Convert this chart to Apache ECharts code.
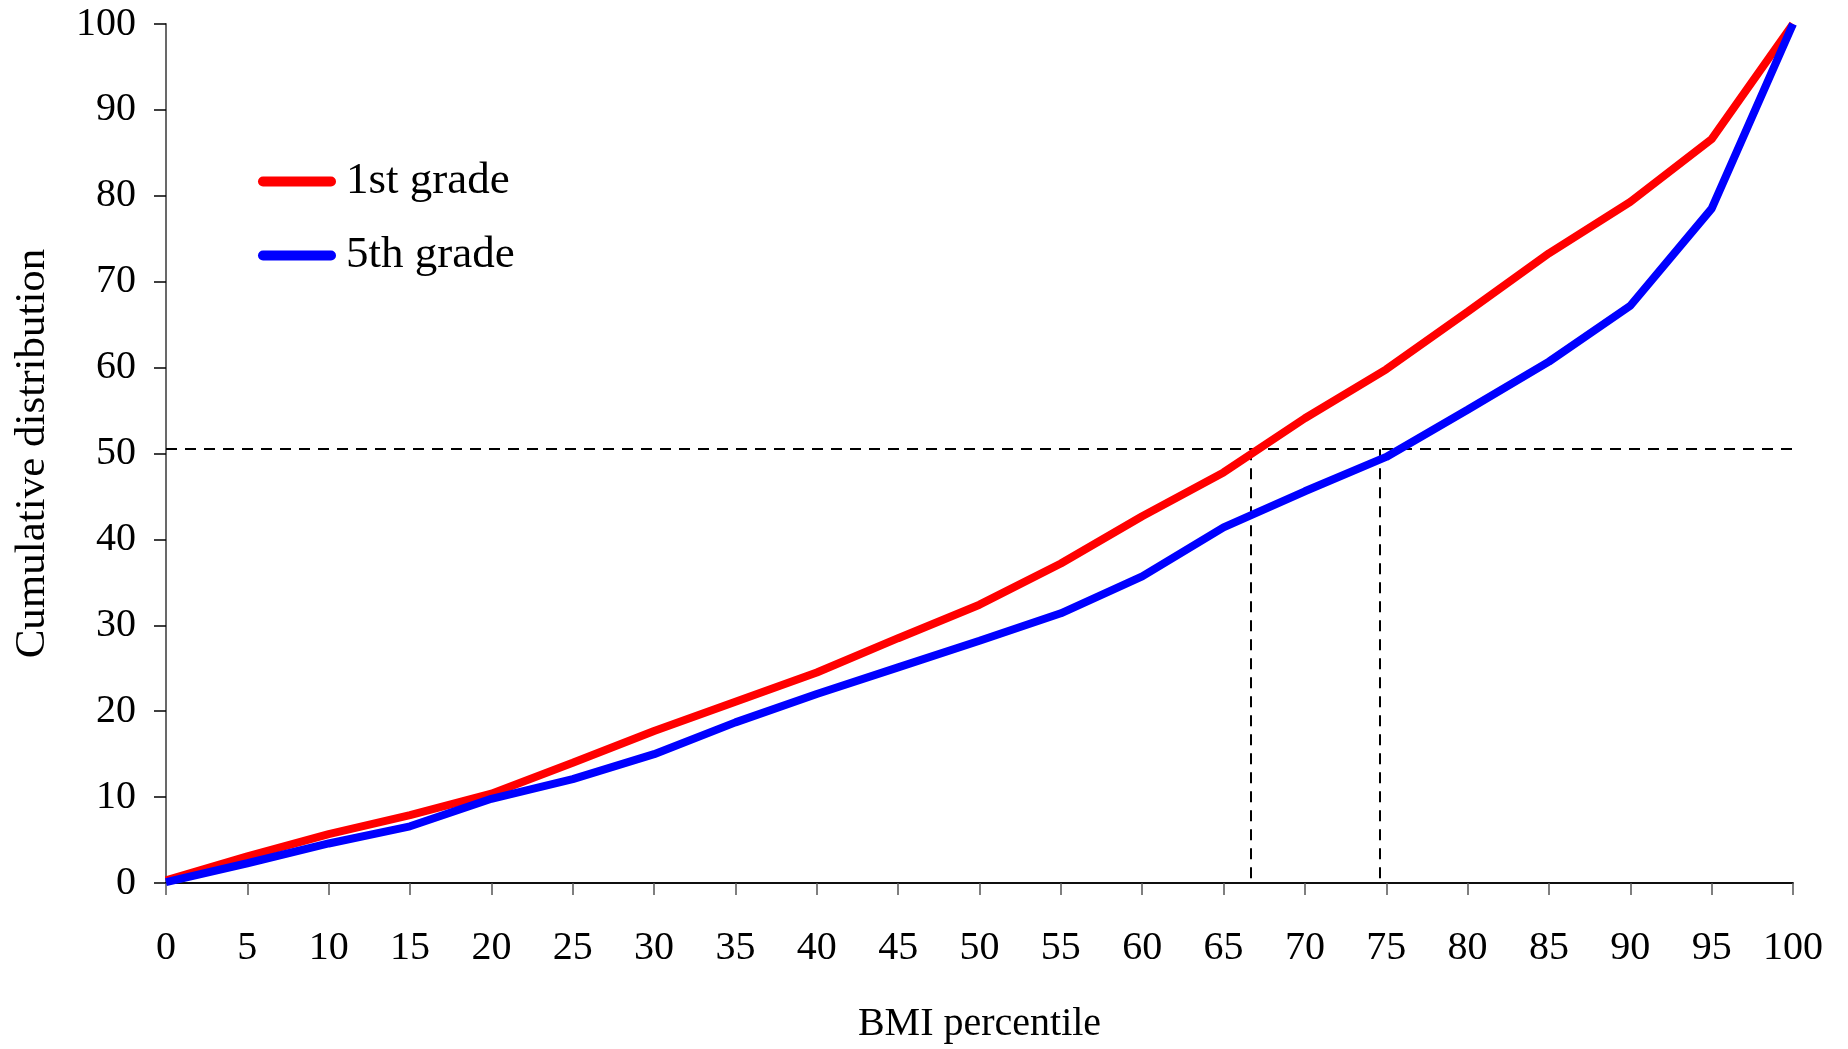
<!DOCTYPE html>
<html>
<head>
<meta charset="utf-8">
<script src="https://cdn.jsdelivr.net/npm/echarts@6/dist/echarts.min.js"></script>
<style>
html,body{margin:0;padding:0;background:#fff;}
#chart{width:1848px;height:1049px;}
</style>
</head>
<body>
<div id="chart"></div>
<script>
var percentiles = [0,5,10,15,20,25,30,35,40,45,50,55,60,65,70,75,80,85,90,95,100];
var grade1 = [0.3,3.1,5.7,7.9,10.4,14.0,17.7,21.1,24.5,28.5,32.4,37.2,42.7,47.8,54.1,59.8,66.5,73.3,79.3,86.6,100];
var grade5 = [0.1,2.3,4.6,6.6,9.8,12.1,15.0,18.7,22.0,25.1,28.2,31.4,35.7,41.4,45.6,49.6,55.1,60.7,67.2,78.5,100];
var seriesNames = ['1st grade','5th grade'];
var medianLevel = 50.5;
var medianCrossings = [66.7, 74.6];

var FONT = "'Liberation Serif','Times New Roman',serif";

function pairs(xs, ys){ return xs.map(function(x,i){ return [x, ys[i]]; }); }

var dashStyle = {color:'#000', width:2, type:[11,8]};
var markLines = [[{coord:[0, medianLevel]},{coord:[100, medianLevel]}]];
medianCrossings.forEach(function(c){
  markLines.push([{coord:[c, medianLevel]},{coord:[c, 0]}]);
});

var capsule = 'path://M5,0 L73,0 A5,5 0 0 1 73,10 L5,10 A5,5 0 0 1 5,0 Z';

var chart = echarts.init(document.getElementById('chart'));
chart.setOption({
  animation:false,
  backgroundColor:'#fff',
  textStyle:{fontFamily:FONT, color:'#000'},
  grid:{left:166, right:55, top:24, bottom:163, containLabel:false},
  legend:{
    orient:'vertical', left:253, top:154,
    itemWidth:78, itemHeight:10, itemGap:29,
    icon:capsule,
    textStyle:{fontFamily:FONT, fontSize:45, color:'#000', padding:[0,0,0,5]},
    data:seriesNames
  },
  xAxis:[{
    type:'value', min:0, max:100, interval:5,
    name:'BMI percentile', nameLocation:'middle', nameGap:121,
    nameTextStyle:{fontFamily:FONT, fontSize:40, color:'#000'},
    axisLine:{show:true, onZero:false, lineStyle:{color:'#000', width:1.5}},
    axisTick:{show:true, inside:false, length:12, lineStyle:{color:'#555', width:1.5}},
    axisLabel:{margin:45, fontFamily:FONT, fontSize:40, color:'#000'},
    splitLine:{show:false}
  },{
    type:'value', min:0, max:100, position:'top',
    axisLine:{show:true, lineStyle:{color:'#000', width:1.5}},
    axisTick:{show:false}, axisLabel:{show:false}, splitLine:{show:false}
  }],
  yAxis:[{
    type:'value', min:0, max:100, interval:10,
    name:'Cumulative distribution', nameLocation:'middle', nameGap:112,
    nameTextStyle:{fontFamily:FONT, fontSize:43, color:'#000'},
    axisLine:{show:true, onZero:false, lineStyle:{color:'#000', width:1.5}},
    axisTick:{show:true, inside:false, length:12, lineStyle:{color:'#000', width:1.5}},
    axisLabel:{margin:30, fontFamily:FONT, fontSize:40, color:'#000'},
    splitLine:{show:false}
  },{
    type:'value', min:0, max:100, position:'right',
    axisLine:{show:true, lineStyle:{color:'#777', width:1.5}},
    axisTick:{show:false}, axisLabel:{show:false}, splitLine:{show:false}
  }],
  series:[{
    name:seriesNames[0], type:'line', data:pairs(percentiles, grade1),
    showSymbol:false, symbol:'none', color:'#FF0000',
    lineStyle:{color:'#FF0000', width:8}, z:3,
    markLine:{silent:true, symbol:['none','none'], label:{show:false}, lineStyle:dashStyle, data:markLines, z:1}
  },{
    name:seriesNames[1], type:'line', data:pairs(percentiles, grade5),
    showSymbol:false, symbol:'none', color:'#0000FF',
    lineStyle:{color:'#0000FF', width:8}, z:4
  }]
});
</script>
</body>
</html>
